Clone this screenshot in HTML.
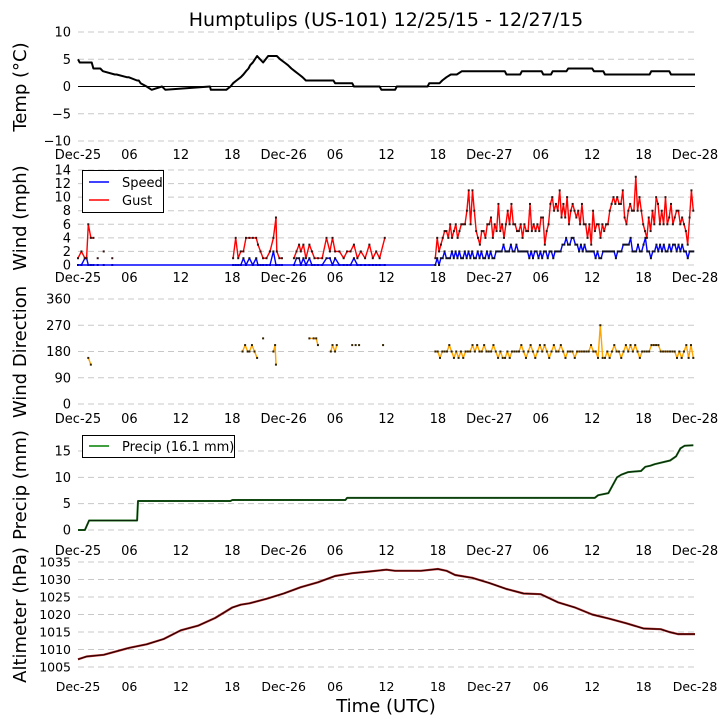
<!DOCTYPE html>
<html><head><meta charset="utf-8"><style>
body{margin:0;background:#fff}
svg{display:block;font-family:"DejaVu Sans","Liberation Sans",sans-serif}
</style></head><body>
<svg id="c" width="726" height="725" viewBox="0 0 726 725"></svg>
<script>
// ---------- DATA ----------
const xTickLabels=["Dec-25","06","12","18","Dec-26","06","12","18","Dec-27","06","12","18","Dec-28"];
const tempHours=[0,0.2,1.6,1.8,2.6,2.9,4.3,4.5,5.7,5.9,6.9,7.1,7.3,8,8.6,9.8,10.2,15.4,15.5,17.3,17.8,18.1,18.5,19,19.3,19.6,19.9,20.1,20.4,20.9,21.6,22.2,23.2,23.6,24.1,24.5,24.9,25.3,25.8,26.2,26.6,29.8,30,32,32.2,35.2,35.4,37,37.2,40.8,41,42.2,42.5,43,43.5,44.2,44.8,49.8,50,51.6,51.8,54.1,54.3,55.2,55.4,57,57.2,60,60.2,61.3,61.5,66.7,66.9,69,69.2,72];
const tempVals=[5,4.4,4.4,3.3,3.3,2.8,2.2,2.2,1.7,1.7,1.1,1.1,0.6,0,-0.6,0,-0.6,0,-0.6,-0.6,0,0.6,1.1,1.7,2.2,2.8,3.3,3.9,4.4,5.6,4.4,5.6,5.6,5,4.4,3.9,3.3,2.8,2.2,1.7,1.1,1.1,0.6,0.6,0,0,-0.6,-0.6,0,0,0.6,0.6,1.1,1.7,2.2,2.2,2.8,2.8,2.2,2.2,2.8,2.8,2.2,2.2,2.8,2.8,3.3,3.3,2.8,2.8,2.2,2.2,2.8,2.8,2.2,2.2];
const windEarlyHours=[0,0.4,0.8,1.0,1.2,1.5,1.8,null,2.3,null,3.0,null,4.0,null,18.1,18.4,18.7,19.0,19.3,19.6,20.0,20.4,20.8,21.0,21.3,21.6,22.0,22.4,22.8,23.1,23.2,23.5,23.8,null,25.2,25.5,25.8,26.0,26.3,26.6,27.0,27.3,27.6,28.0,28.5,29.0,29.4,29.7,30.0,30.5,31.0,31.4,31.8,32.2,32.6,33.0,33.5,34.0,34.4,34.8,35.2,35.8];
const gustEarly=[1,2,1,1,6,4,4,null,1,null,2,null,1,null,1,4,1,2,2,4,4,4,4,3,2,1,1,2,4,7,2,1,1,null,1,2,3,2,3,1,3,2,1,1,1,4,2,4,2,2,1,2,2,3,1,2,1,3,1,2,1,4];
const speedEarly=[0,0,1,1,0,0,0,null,0,null,0,null,0,null,0,0,0,0,1,0,1,0,1,0,0,0,0,0,2,0,0,0,0,null,0,1,1,0,1,0,1,0,0,0,0,1,1,0,1,0,0,0,0,1,0,0,0,0,0,0,0,0];
const speedZeroStart=0, speedZeroEnd=41.7;
const gustLateStart=41.7, gustLateEnd=71.8;
const gustLate=[1,4,2,3,4,5,5,4,6,4,5,6,4,5,6,6,6,8,11,6,11,8,5,4,3,5,5,4,6,6,7,4,6,5,9,5,6,4,6,8,6,9,6,6,5,5,6,4,6,5,5,9,5,6,5,6,5,7,7,3,5,6,9,10,8,9,8,11,7,9,7,10,6,8,9,8,7,8,6,9,6,6,4,6,3,8,5,6,6,4,6,5,6,6,8,9,10,9,10,9,9,11,7,6,8,9,8,8,13,8,10,8,6,5,4,7,5,8,6,10,9,6,8,6,10,6,7,9,6,7,8,8,6,7,6,5,3,7,11,8];
const speedLate=[0,1,0,1,1,2,1,1,1,2,1,2,1,2,1,1,2,1,2,1,2,1,1,2,1,2,1,1,2,1,2,1,1,2,2,2,2,3,2,2,2,3,2,2,3,2,2,2,2,2,2,1,2,1,2,2,1,2,1,2,2,1,2,2,1,2,2,2,2,3,3,4,3,3,4,4,3,3,2,3,2,3,2,2,2,2,2,1,2,1,1,2,2,2,2,2,2,2,1,2,2,2,3,3,3,3,4,2,2,2,3,2,2,3,4,2,2,1,2,2,3,2,3,2,3,2,2,3,2,3,3,2,3,2,3,2,2,1,2,2,2];
const dirEarlyHours=[1.2,1.5,null,19.2,19.5,19.8,20.0,20.3,20.6,20.9,null,21.6,null,22.8,23.0,23.1,null,27.0,27.5,27.8,28.0,null,29.5,29.7,30.0,30.2,null,32.0,null,32.4,null,32.8,null,35.6];
const dirEarly=[158,135,null,180,202,180,180,202,180,158,null,225,null,180,202,135,null,225,225,225,202,null,180,202,180,202,null,202,null,202,null,202,null,202];
const dirLateStart=41.7, dirLateEnd=71.8;
const dirLate=[180,180,158,180,180,180,202,180,158,180,158,180,158,180,180,180,202,180,202,180,180,202,180,180,180,202,180,158,180,158,158,180,158,180,180,180,180,202,180,158,180,202,180,158,180,202,180,202,180,158,180,202,180,180,202,180,158,180,180,180,158,180,180,180,180,180,180,202,180,180,158,270,158,158,180,158,180,202,180,180,158,180,202,180,202,180,202,180,158,180,180,180,180,202,202,202,202,180,180,180,180,180,180,180,158,180,158,180,202,158,202,158];
const precipHours=[0,0.8,1.3,6.9,7.0,17.8,18.0,31.2,31.4,60.3,60.7,61.9,62.9,63.4,64.2,65.7,66.2,66.8,67.3,68.6,69.1,69.8,70.3,70.8,71.8];
const precipVals=[0,0,1.8,1.8,5.5,5.5,5.7,5.7,6.1,6.1,6.6,7.0,10.0,10.5,11.0,11.2,12.0,12.2,12.5,13.0,13.2,14.0,15.5,16.0,16.1];
const altHours=[0,1,3,6,8,10,12,14,16,18,19,20,22,24,26,28,30,32,34,36,37,40,42,43,44,46,48,50,52,54,56,58,60,62,64,66,68,69,70,72];
const altVals=[1007.2,1008,1008.5,1010.5,1011.5,1013,1015.5,1016.8,1019,1022,1022.8,1023.2,1024.5,1026,1027.8,1029.2,1031,1031.8,1032.3,1032.8,1032.5,1032.5,1033,1032.5,1031.3,1030.5,1029,1027.3,1026,1025.8,1023.5,1022,1020,1018.8,1017.5,1016,1015.8,1015,1014.4,1014.4];

// ---------- HELPERS ----------
const NS="http://www.w3.org/2000/svg";
const svg=document.getElementById('c');
function mk(tag,attrs,parent){const e=document.createElementNS(NS,tag);for(const k in attrs)e.setAttribute(k,attrs[k]);(parent||svg).appendChild(e);return e;}
const X0=78,X1=695;
function xS(h){return X0+h*(X1-X0)/72;}
function lin(v0,y0,v1,y1){return v=>y0+(v-v0)*(y1-y0)/(v1-v0);}
const yT=lin(10,32,-10,141), yW=lin(14,170,0,265), yD=lin(360,299,0,404), yP=lin(15,451,0,530), yA=lin(1035,562,1005,667);

function grid(yf,ticks,labelY,name,labelSize){
  const g=mk('g',{});
  
  
  ticks.forEach(t=>{
    const y=yf(t);
    const l=mk('line',{x1:X0,x2:X1,y1:y,y2:y,stroke:'#c8c8c8','stroke-width':1,'stroke-dasharray':'6,4'},g);
    
    
    const tx=mk('text',{x:71,y:y+4.5,'text-anchor':'end','font-size':labelSize||13,fill:'#000'},g);
    tx.textContent=String(t).replace('-','\u2212');
    
    
  });
  xTickLabels.forEach((s,i)=>{
    const tx=mk('text',{x:xS(i*6),y:labelY,'text-anchor':'middle','font-size':labelSize||13,fill:'#000'},g);
    tx.textContent=s;
    
    
  });
}
function ylabel(text,cy,name){
  const t=mk('text',{x:0,y:0,'font-size':18,'text-anchor':'middle',transform:`translate(26,${cy}) rotate(-90)`});
  t.textContent=text;
  
  
}
function series(hours,vals,yf,color,w,name,dots,dotColor){
  let segs=[],cur=[];
  hours.forEach((h,i)=>{const v=vals[i];if(h===null||v===null){if(cur.length)segs.push(cur);cur=[];}else cur.push([xS(h),yf(v)]);});
  if(cur.length)segs.push(cur);
  const g=mk('g',{});
  
  
  segs.forEach(s=>{
    if(s.length>1){
      const p=mk('polyline',{points:s.map(q=>q[0].toFixed(1)+','+q[1].toFixed(1)).join(' '),fill:'none',stroke:color,'stroke-width':w,'stroke-linejoin':'round'},g);
      
      
    }
    if(dots||s.length===1){
      s.forEach(q=>{const r=mk('rect',{x:q[0]-1,y:q[1]-1,width:2,height:2,fill:dotColor||'#222'},g);
        
        });
    }
  });
}
function uniformHours(start,end,n){const a=[];for(let i=0;i<n;i++)a.push(start+(end-start)*i/(n-1));return a;}

// ---------- TITLE ----------
const title=mk('text',{x:386,y:26,'text-anchor':'middle','font-size':19});
title.textContent="Humptulips (US-101) 12/25/15 - 12/27/15";



// ---------- TEMP ----------
grid(yT,[10,5,0,-5,-10],159,'temp');
const zl=mk('line',{x1:X0,x2:X1,y1:yT(0),y2:yT(0),stroke:'#000','stroke-width':1});


series(tempHours,tempVals,yT,'#000',2,'temp-series');
ylabel("Temp (\u00B0C)",87,'temp-y-axis-title');

// ---------- WIND ----------
grid(yW,[14,12,10,8,6,4,2,0],282,'wind');
series(windEarlyHours,speedEarly,yW,'#0000ff',1.4,'wind-speed-early',true,'#112');
series([speedZeroStart,speedZeroEnd],[0,0],yW,'#0000ff',1.4,'wind-speed-calm');
series(windEarlyHours,gustEarly,yW,'#ff0000',1.4,'wind-gust-early',true,'#311');
series(uniformHours(gustLateStart,gustLateEnd,speedLate.length),speedLate,yW,'#0000ff',1.4,'wind-speed-late',true,'#112');
series(uniformHours(gustLateStart,gustLateEnd,gustLate.length),gustLate,yW,'#ff0000',1.4,'wind-gust-late',true,'#311');
ylabel("Wind (mph)",218,'wind-y-axis-title');
(function(){
  const g=mk('g',{});
  
  
  mk('rect',{x:82.5,y:170.5,width:81,height:42,fill:'#fff',stroke:'#000','stroke-width':1},g);
  mk('line',{x1:89,x2:109,y1:182,y2:182,stroke:'#0000ff','stroke-width':1.5},g);
  mk('line',{x1:89,x2:109,y1:200,y2:200,stroke:'#ff0000','stroke-width':1.5},g);
  const a=mk('text',{x:122,y:187,'font-size':13},g);a.textContent="Speed";
  
  const b=mk('text',{x:122,y:205,'font-size':13},g);b.textContent="Gust";
  
})();

// ---------- DIRECTION ----------
grid(yD,[360,270,180,90,0],423,'dir');
series(dirEarlyHours,dirEarly,yD,'#ffa500',1.4,'wind-direction-early',true,'#332200');
series(uniformHours(dirLateStart,dirLateEnd,dirLate.length),dirLate,yD,'#ffa500',1.4,'wind-direction-late',true,'#332200');
ylabel("Wind Direction",352,'direction-y-axis-title');

// ---------- PRECIP ----------
grid(yP,[15,10,5,0],555,'precip');
series(precipHours,precipVals,yP,'#1a6b1a',2,'precip-series');
series(precipHours,precipVals,yP,'#0b250b',1,'precip-series-markers');
ylabel("Precip (mm)",485,'precip-y-axis-title');
(function(){
  const g=mk('g',{});
  
  
  mk('rect',{x:82.5,y:435.5,width:152,height:22,fill:'#fff',stroke:'#000','stroke-width':1},g);
  mk('line',{x1:89,x2:109,y1:446,y2:446,stroke:'#008000','stroke-width':1.5},g);
  const a=mk('text',{x:122,y:451,'font-size':13},g);a.textContent="Precip (16.1 mm)";
  
})();

// ---------- ALTIMETER ----------
grid(yA,[1035,1030,1025,1020,1015,1010,1005],691,'alt',12.5);
series(altHours,altVals,yA,'#c03030',2.2,'altimeter-series');
series(altHours,altVals,yA,'#2a0000',1.2,'altimeter-series-markers');
ylabel("Altimeter (hPa)",615,'altimeter-y-axis-title');

const xt=mk('text',{x:386,y:712,'text-anchor':'middle','font-size':18});
xt.textContent="Time (UTC)";


</script>
</body></html>
